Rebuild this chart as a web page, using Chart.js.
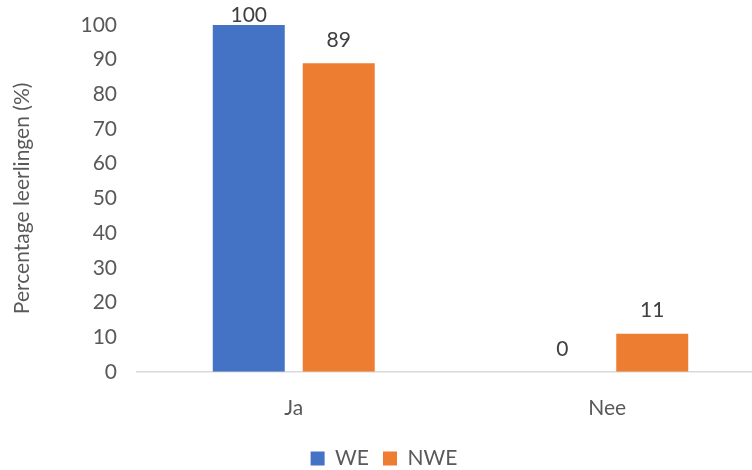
<!DOCTYPE html>
<html>
<head>
<meta charset="utf-8">
<script src="https://cdn.jsdelivr.net/npm/chart.js@4"></script>
<style>
    html, body { margin: 0; padding: 0; background: #fff; overflow: hidden; }
    #wrap { width: 752px; height: 470px; overflow: hidden; }
    #wrap canvas { display: block; }
</style>
</head>
<body>
<div id="wrap"><canvas id="chart" width="764" height="470"></canvas></div>
<script>
// Antwoorden per groep leerlingen
const categories = ["Ja", "Nee"];
const weValues = [100, 0];
const nweValues = [89, 11];
const yTicks = [0, 10, 20, 30, 40, 50, 60, 70, 80, 90, 100];

const FONT = "Lato, 'Open Sans', sans-serif";
const TEXT = "#595959";
const SIZE = 21;

// Draws the value above each bar
const valueLabels = {
    id: "valueLabels",
    afterDatasetsDraw(chart) {
        const ctx = chart.ctx;
        ctx.save();
        ctx.font = SIZE + "px " + FONT;
        ctx.fillStyle = "#404040";
        ctx.textAlign = "center";
        ctx.textBaseline = "middle";
        chart.data.datasets.forEach((ds, i) => {
            chart.getDatasetMeta(i).data.forEach((bar, j) => {
                const y = Math.max(bar.y - 23, 15);
                ctx.fillText(String(ds.data[j]), bar.x, y);
            });
        });
        ctx.restore();
    }
};

new Chart(document.getElementById("chart"), {
    type: "bar",
    data: {
        labels: categories,
        datasets: [
            { label: "WE", data: weValues, backgroundColor: "#4472C4" },
            { label: "NWE", data: nweValues, backgroundColor: "#ED7D31" }
        ]
    },
    options: {
        responsive: false,
        animation: false,
        layout: { padding: { top: 25, left: 4, right: 0, bottom: -9 } },
        datasets: {
            bar: { categoryPercentage: 0.574, barPercentage: 0.8 }
        },
        scales: {
            x: {
                grid: { display: false, drawTicks: false },
                border: { color: "#d9d9d9", width: 1.5 },
                ticks: { color: TEXT, font: { family: FONT, size: SIZE }, padding: 24 },
                // let the legend sit a bit closer to the category labels
                afterFit: axis => { axis.height -= 11; }
            },
            y: {
                min: 0,
                max: 100,
                afterBuildTicks: axis => { axis.ticks = yTicks.map(v => ({ value: v })); },
                afterFit: axis => {
                    axis.width = 133;
                    axis.paddingTop = 0;
                    axis.paddingBottom = 0;
                },
                grid: { display: false, drawTicks: false },
                border: { display: false },
                ticks: { color: TEXT, font: { family: FONT, size: SIZE }, padding: 20 },
                title: {
                    display: true,
                    text: "Percentage leerlingen (%)",
                    color: TEXT,
                    font: { family: FONT, size: SIZE },
                    padding: { top: 6, bottom: 0 }
                }
            }
        },
        plugins: {
            legend: {
                position: "bottom",
                labels: {
                    color: TEXT,
                    font: { family: FONT, size: SIZE },
                    boxWidth: 14,
                    boxHeight: 14,
                    padding: 14
                }
            },
            tooltip: { enabled: false }
        }
    },
    plugins: [valueLabels]
});
</script>
</body>
</html>
